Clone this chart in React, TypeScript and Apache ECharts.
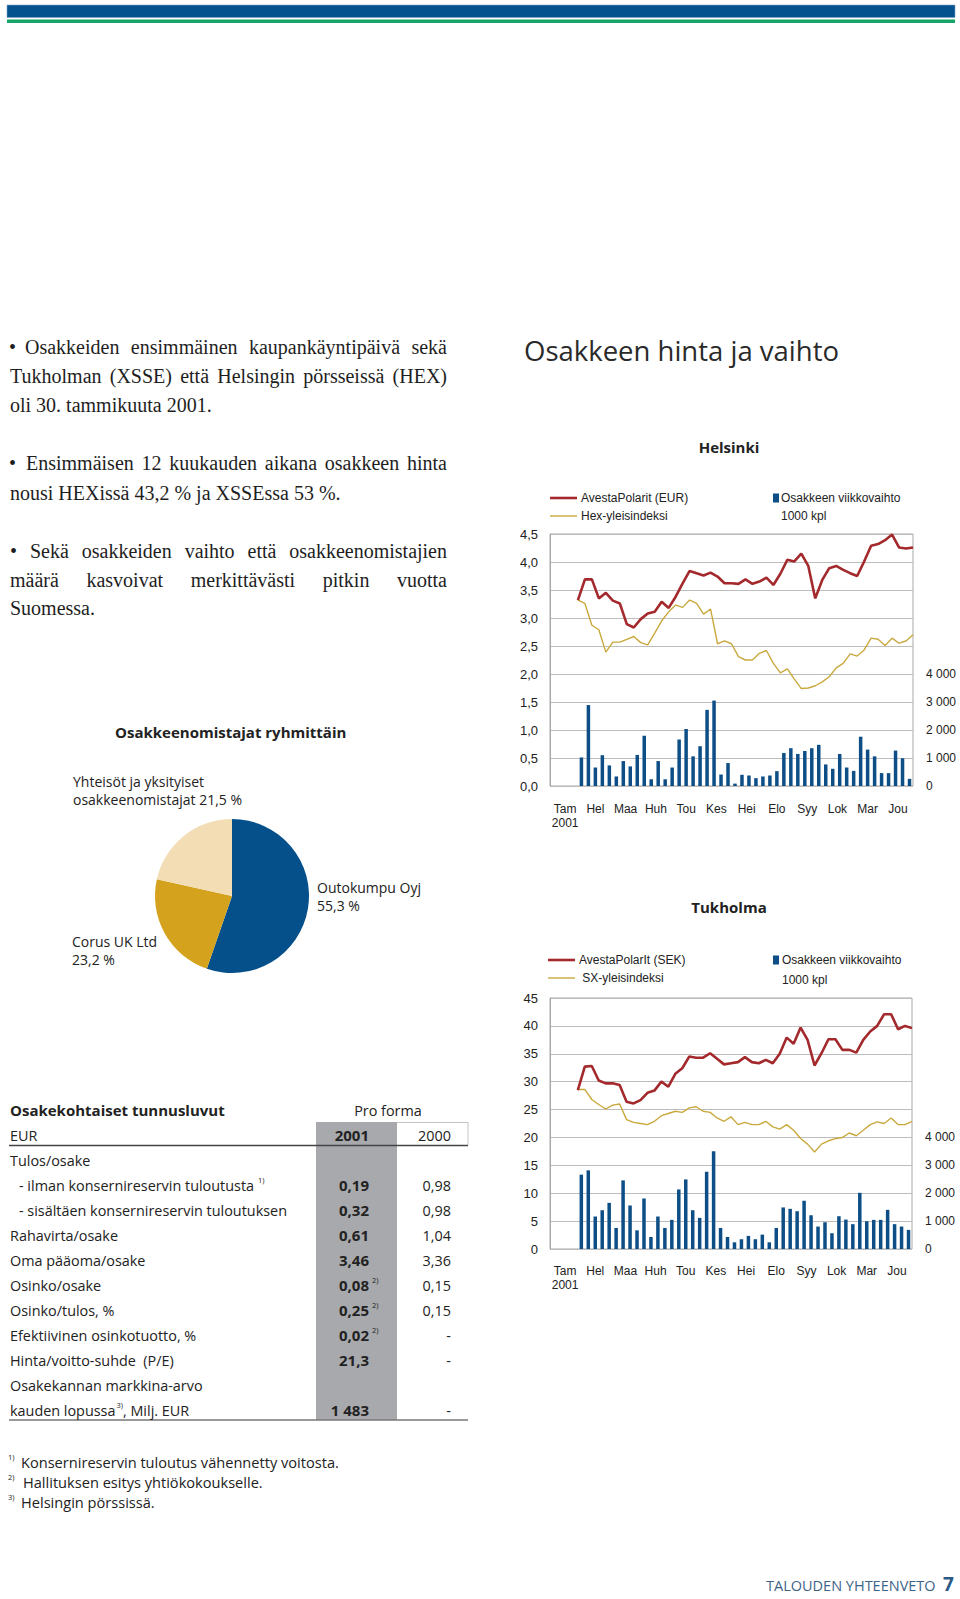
import React, { useEffect, useRef } from 'react';
import * as echarts from 'echarts';

// ---------- DATA ----------
const months = ['Tam', 'Hel', 'Maa', 'Huh', 'Tou', 'Kes', 'Hei', 'Elo', 'Syy', 'Lok', 'Mar', 'Jou'];
const yearLabel = '2001';
const weekCount = 52;
const firstBarWeek = 5; // first weekly turnover bar (week 5)
const firstPriceWeek = 4; // first price observation (end of week 4)

// Helsinki
const hexPrice = [3.32, 3.69, 3.69, 3.35, 3.45, 3.31, 3.26, 2.89, 2.83, 2.98, 3.08, 3.11, 3.29, 3.18, 3.38, 3.62, 3.84, 3.8, 3.76, 3.81, 3.74, 3.62, 3.62, 3.61, 3.69, 3.61, 3.65, 3.72, 3.59, 3.79, 4.04, 4.01, 4.15, 3.93, 3.35, 3.68, 3.89, 3.93, 3.86, 3.8, 3.75, 4.01, 4.29, 4.32, 4.39, 4.49, 4.26, 4.24, 4.26];
const hexIndex = [3.32, 3.26, 2.87, 2.79, 2.39, 2.57, 2.57, 2.62, 2.67, 2.56, 2.52, 2.73, 2.95, 3.11, 3.23, 3.19, 3.32, 3.26, 3.07, 3.16, 2.54, 2.59, 2.54, 2.31, 2.25, 2.25, 2.37, 2.42, 2.19, 2.02, 2.09, 1.91, 1.74, 1.75, 1.79, 1.86, 1.95, 2.11, 2.19, 2.36, 2.32, 2.43, 2.64, 2.62, 2.51, 2.64, 2.55, 2.59, 2.7];
const hexVolume = [1020, 2890, 660, 1100, 735, 340, 890, 700, 1110, 1795, 240, 890, 240, 660, 1660, 2035, 1060, 1420, 2720, 3050, 410, 820, 85, 400, 375, 280, 340, 375, 530, 1180, 1350, 1145, 1250, 1350, 1470, 770, 615, 1145, 660, 540, 1760, 1300, 1060, 460, 460, 1265, 990, 255];

// Tukholma
const sxPrice = [28.5, 32.7, 32.8, 30.2, 29.7, 29.7, 29.4, 26.4, 26.1, 26.7, 28.0, 28.4, 30.0, 29.1, 31.4, 32.4, 34.5, 34.3, 34.3, 35.1, 34.1, 33.1, 33.3, 33.5, 34.4, 33.5, 33.3, 33.9, 33.3, 35.0, 37.9, 36.8, 39.7, 37.5, 32.9, 35.1, 37.6, 37.6, 35.7, 35.7, 35.2, 37.5, 39.0, 40.0, 42.1, 42.1, 39.4, 40.0, 39.6];
const sxIndex = [28.6, 28.6, 26.8, 25.9, 25.1, 25.8, 26.0, 23.2, 22.7, 22.5, 22.3, 22.9, 23.9, 24.3, 24.7, 24.5, 25.3, 25.5, 24.7, 24.5, 23.5, 22.9, 23.7, 22.3, 22.7, 22.3, 22.3, 22.9, 21.9, 21.5, 22.3, 21.3, 19.8, 18.8, 17.4, 18.8, 19.4, 19.8, 20.0, 20.8, 20.3, 21.3, 22.3, 22.8, 22.5, 23.5, 22.3, 22.3, 22.9];
const sxVolume = [2665, 2820, 1165, 1390, 1655, 755, 2460, 1560, 670, 1810, 430, 1165, 755, 1045, 2135, 2495, 1390, 1115, 2770, 3505, 755, 430, 240, 350, 470, 350, 515, 240, 755, 1490, 1440, 1355, 1730, 1210, 805, 960, 565, 1175, 1055, 890, 2015, 995, 1045, 1045, 1405, 890, 805, 685];

// Axis settings
const hexPriceAxis = { min: 0, max: 4.5, interval: 0.5 };
const sxPriceAxis = { min: 0, max: 45, interval: 5 };
const volumeAxis = { min: 0, max: 9000, interval: 1000, labelMax: 4000 };

// Owners
const ownerNames = ['Outokumpu Oyj', 'Corus UK Ltd', 'Yhteisöt ja yksityiset\nosakkeenomistajat'];
const ownerShares = [55.3, 23.2, 21.5];

// Table
const tableLabels = ['Tulos/osake', '- ilman konsernireservin tuloutusta', '- sisältäen konsernireservin tuloutuksen', 'Rahavirta/osake', 'Oma pääoma/osake', 'Osinko/osake', 'Osinko/tulos, %', 'Efektiivinen osinkotuotto, %', 'Hinta/voitto-suhde  (P/E)', 'Osakekannan markkina-arvo', 'kauden lopussa'];
const tableLabelNotes = ['', '1)', '', '', '', '', '', '', '', '', '3)'];
const tableLabelSuffix = ['', '', '', '', '', '', '', '', '', '', ', Milj. EUR'];
const tableIndent = [false, true, true, false, false, false, false, false, false, false, false];
const values2001 = ['', '0,19', '0,32', '0,61', '3,46', '0,08', '0,25', '0,02', '21,3', '', '1 483'];
const notes2001 = ['', '', '', '', '', '2)', '2)', '2)', '', '', ''];
const values2000 = ['', '0,98', '0,98', '1,04', '3,36', '0,15', '0,15', '-', '-', '', '-'];

const footnotes = [
  ['1)', 'Konsernireservin tuloutus vähennetty voitosta.'],
  ['2)', 'Hallituksen esitys yhtiökokoukselle.'],
  ['3)', 'Helsingin pörssissä.'],
];

// ---------- STYLE ----------
const RED = '#a3292c';
const YELLOW = '#c9a93e';
const BLUE = '#0d4e86';
const GRID = '#bdbdbd';
const TXT = '#222';
const SANS = 'Liberation Sans';
const HUM = 'Open Sans';
const SERIF = 'Liberation Serif';

let measureCtx: CanvasRenderingContext2D | null = null;
function textWidth(text: string, font: string): number {
  if (!measureCtx) measureCtx = document.createElement('canvas').getContext('2d');
  if (!measureCtx) return text.length * 8;
  measureCtx.font = font;
  return measureCtx.measureText(text).width;
}

function txt(text: string, x: number, y: number, o: any = {}) {
  return {
    type: 'text',
    x,
    y,
    silent: true,
    style: {
      text,
      fontSize: o.size || 14,
      fontFamily: o.family || HUM,
      fontWeight: o.weight || 'normal',
      fill: o.fill || TXT,
      align: o.align || 'left',
      verticalAlign: o.valign || 'middle',
      lineHeight: o.lineHeight,
    },
  };
}

function justified(words: string[], x0: number, x1: number, y: number, size: number) {
  const font = `${size}px "${SERIF}"`;
  const widths = words.map((w) => textWidth(w, font));
  const total = widths.reduce((a, b) => a + b, 0);
  const gap = (x1 - x0 - total) / (words.length - 1);
  let x = x0;
  return words.map((w, i) => {
    const el = txt(w, x, y, { size, family: SERIF, fill: '#1e1e1e' });
    x += widths[i] + gap;
    return el;
  });
}

function line(x1: number, y1: number, x2: number, y2: number, stroke: string, lineWidth: number) {
  return { type: 'line', silent: true, shape: { x1, y1, x2, y2 }, style: { stroke, lineWidth } };
}

function fmtVol(v: number) {
  if (v > volumeAxis.labelMax) return '';
  if (v === 0) return '0';
  return `${Math.floor(v / 1000)} 000`;
}

function buildOption() {
  const weeks = Array.from({ length: weekCount }, (_, i) => String(i + 1));
  const weekEdges = Array.from({ length: weekCount + 1 }, (_, i) => String(i));
  const barPad = Array(firstBarWeek - 1).fill(null);
  const linePad = Array(firstPriceWeek).fill(null);

  const grids = [
    { left: 550, top: 534, width: 363, height: 252 },
    { left: 550, top: 998, width: 362, height: 251 },
  ];

  const xAxes: any[] = [];
  const yAxes: any[] = [];
  grids.forEach((_, g) => {
    xAxes.push({ type: 'category', gridIndex: g, data: weeks, show: false, boundaryGap: true });
    xAxes.push({ type: 'category', gridIndex: g, data: weekEdges, show: false, boundaryGap: false });
    xAxes.push({
      type: 'category',
      gridIndex: g,
      data: months,
      position: 'bottom',
      boundaryGap: true,
      axisLine: { show: false },
      axisTick: { show: false },
      splitLine: { show: false },
      axisLabel: {
        interval: 0,
        margin: g === 0 ? 16 : 15,
        fontSize: 12,
        fontFamily: SANS,
        color: TXT,
        lineHeight: 14,
        formatter: (v: string, i: number) => (i === 0 ? `${v}\n${yearLabel}` : v),
      },
    });
    const pa = g === 0 ? hexPriceAxis : sxPriceAxis;
    yAxes.push({
      type: 'value',
      gridIndex: g,
      position: 'left',
      min: pa.min,
      max: pa.max,
      interval: pa.interval,
      axisLine: { show: true, lineStyle: { color: '#a8a8a8' } },
      axisTick: { show: false },
      splitLine: { show: true, lineStyle: { color: GRID, width: 1 } },
      axisLabel: {
        margin: 12,
        fontSize: 13,
        fontFamily: SANS,
        color: TXT,
        formatter: (v: number) => (g === 0 ? v.toFixed(1).replace('.', ',') : String(v)),
      },
    });
    yAxes.push({
      type: 'value',
      gridIndex: g,
      position: 'right',
      min: volumeAxis.min,
      max: volumeAxis.max,
      interval: volumeAxis.interval,
      axisLine: { show: false },
      axisTick: { show: false },
      splitLine: { show: false },
      axisLabel: { margin: 13, fontSize: 12, fontFamily: SANS, color: TXT, formatter: fmtVol },
    });
  });

  const chartSeries = (g: number, vol: number[], price: number[], index: number[]) => [
    {
      type: 'bar',
      xAxisIndex: g * 3,
      yAxisIndex: g * 2 + 1,
      data: [...barPad, ...vol],
      barWidth: 3.5,
      itemStyle: { color: BLUE },
      silent: true,
      z: 2,
    },
    {
      type: 'line',
      xAxisIndex: g * 3 + 1,
      yAxisIndex: g * 2,
      data: [...linePad, ...index],
      symbol: 'none',
      lineStyle: { color: YELLOW, width: 1.4 },
      silent: true,
      z: 3,
    },
    {
      type: 'line',
      xAxisIndex: g * 3 + 1,
      yAxisIndex: g * 2,
      data: [...linePad, ...price],
      symbol: 'none',
      lineStyle: { color: RED, width: 2.6 },
      silent: true,
      z: 4,
    },
  ];

  const pieColors = ['#05508a', '#d5a21d', '#f2ddb4'];

  const graphics: any[] = [];
  // header bars
  graphics.push({ type: 'rect', silent: true, shape: { x: 7, y: 5, width: 948, height: 12.5 }, style: { fill: '#04528e', stroke: '#7fa6c8', lineWidth: 0.6 } });
  graphics.push({ type: 'rect', silent: true, shape: { x: 7, y: 19.5, width: 948, height: 3.5 }, style: { fill: '#16a46a' } });

  // left serif text
  const SZ = 20;
  graphics.push(txt('•', 9, 347, { size: SZ, family: SERIF, fill: '#1e1e1e' }));
  graphics.push(...justified(['Osakkeiden', 'ensimmäinen', 'kaupankäyntipäivä', 'sekä'], 25, 447, 347, SZ));
  graphics.push(...justified(['Tukholman', '(XSSE)', 'että', 'Helsingin', 'pörsseissä', '(HEX)'], 10, 447, 376, SZ));
  graphics.push(txt('oli 30. tammikuuta 2001.', 10, 405, { size: SZ, family: SERIF, fill: '#1e1e1e' }));
  graphics.push(txt('•', 9, 463, { size: SZ, family: SERIF, fill: '#1e1e1e' }));
  graphics.push(...justified(['Ensimmäisen', '12', 'kuukauden', 'aikana', 'osakkeen', 'hinta'], 26, 447, 463, SZ));
  graphics.push(txt('nousi HEXissä 43,2 % ja XSSEssa 53 %.', 10, 493, { size: SZ, family: SERIF, fill: '#1e1e1e' }));
  graphics.push(txt('•', 10, 551, { size: SZ, family: SERIF, fill: '#1e1e1e' }));
  graphics.push(...justified(['Sekä', 'osakkeiden', 'vaihto', 'että', 'osakkeenomistajien'], 30, 447, 551, SZ));
  graphics.push(...justified(['määrä', 'kasvoivat', 'merkittävästi', 'pitkin', 'vuotta'], 10, 447, 580, SZ));
  graphics.push(txt('Suomessa.', 10, 608, { size: SZ, family: SERIF, fill: '#1e1e1e' }));

  // main title
  graphics.push(txt('Osakkeen hinta ja vaihto', 524, 350, { size: 27.5, family: HUM, fill: '#2a2a2a' }));

  // chart titles
  graphics.push(txt('Helsinki', 729, 447, { size: 15, weight: 'bold', align: 'center' }));
  graphics.push(txt('Tukholma', 729, 907, { size: 15, weight: 'bold', align: 'center' }));

  // legends
  const legend = (y1: number, y2: number, lx: number, tx: number, t1: string, t2: string, bx: number, btx: number, by2: number) => {
    graphics.push(line(lx, y1, lx + 27, y1, RED, 2.6));
    graphics.push(txt(t1, tx, y1, { size: 12, family: SANS }));
    graphics.push(line(lx, y2, lx + 27, y2, YELLOW, 1.4));
    graphics.push(txt(t2, tx, y2, { size: 12, family: SANS }));
    graphics.push({ type: 'rect', silent: true, shape: { x: bx, y: y1 - 4.5, width: 6, height: 9 }, style: { fill: BLUE } });
    graphics.push(txt('Osakkeen viikkovaihto', btx, y1, { size: 12, family: SANS }));
    graphics.push(txt('1000 kpl', btx, by2, { size: 12, family: SANS }));
  };
  legend(498, 516, 550, 581, 'AvestaPolarit (EUR)', 'Hex-yleisindeksi', 773, 781, 516);
  legend(960, 978, 548, 579, 'AvestaPolarIt (SEK)', ' SX-yleisindeksi', 773, 782, 980);

  // pie title & labels
  graphics.push(txt('Osakkeenomistajat ryhmittäin', 115, 732, { size: 15, weight: 'bold' }));
  const pct = (v: number) => `${v.toFixed(1).replace('.', ',')} %`;
  graphics.push(txt(`${ownerNames[2]} ${pct(ownerShares[2])}`, 73, 790, { size: 14, lineHeight: 18 }));
  graphics.push(txt(`${ownerNames[0]}\n${pct(ownerShares[0])}`, 317, 896, { size: 14, lineHeight: 18 }));
  graphics.push(txt(`${ownerNames[1]}\n${pct(ownerShares[1])}`, 72, 950, { size: 14, lineHeight: 18 }));

  // table
  const TS = 14.4;
  const TB = 15;
  graphics.push({ type: 'rect', silent: true, shape: { x: 316, y: 1122, width: 81, height: 298 }, style: { fill: '#a7a9ac' } });
  graphics.push(line(397, 1122.5, 468, 1122.5, '#c4c4c4', 1));
  graphics.push(line(468, 1122, 468, 1145, '#c4c4c4', 1));
  graphics.push(txt('Osakekohtaiset tunnusluvut', 10, 1110, { size: TB, weight: 'bold' }));
  graphics.push(txt('Pro forma', 388, 1110, { size: TS, align: 'center' }));
  graphics.push(txt('EUR', 10, 1135, { size: TS }));
  graphics.push(txt('2001', 369, 1135, { size: TB, weight: 'bold', align: 'right' }));
  graphics.push(txt('2000', 451, 1135, { size: TS, align: 'right' }));
  graphics.push(line(9, 1145.5, 468, 1145.5, '#444', 1.5));
  graphics.push(line(9, 1420, 468, 1420, '#777', 1.5));
  const rowFont = `${TS}px "${HUM}"`;
  tableLabels.forEach((label, i) => {
    const y = 1160 + 25 * i;
    const x = tableIndent[i] ? 19 : 10;
    graphics.push(txt(label, x, y, { size: TS }));
    let endX = x + textWidth(label, rowFont);
    if (tableLabelNotes[i]) {
      const nx = endX + (tableLabelSuffix[i] ? 1 : 4);
      graphics.push(txt(tableLabelNotes[i], nx, y - 5, { size: 7.5 }));
      endX = nx + textWidth(tableLabelNotes[i], `7.5px "${HUM}"`);
    }
    if (tableLabelSuffix[i]) graphics.push(txt(tableLabelSuffix[i], endX, y, { size: TS }));
    if (values2001[i]) graphics.push(txt(values2001[i], 369, y, { size: TB, weight: 'bold', align: 'right' }));
    if (notes2001[i]) graphics.push(txt(notes2001[i], 372, y - 5, { size: 7.5 }));
    if (values2000[i]) graphics.push(txt(values2000[i], 451, y, { size: TS, align: 'right' }));
  });

  // footnotes
  footnotes.forEach(([n, t], i) => {
    const y = 1462 + 20 * i;
    graphics.push(txt(n, 8, y - 5, { size: 7.5 }));
    graphics.push(txt(t, i === 1 ? 23 : 21, y, { size: 14.6 }));
  });

  // footer
  graphics.push(txt('TALOUDEN YHTEENVETO', 766, 1585, { size: 14.5, fill: '#3d6487' }));
  graphics.push(txt('7', 943, 1584, { size: 19, weight: 'bold', fill: '#2b5a85' }));

  return {
    animation: false,
    backgroundColor: '#ffffff',
    grid: grids.map((g) => ({ ...g, show: true, borderColor: '#a8a8a8', borderWidth: 1, containLabel: false })),
    xAxis: xAxes,
    yAxis: yAxes,
    series: [
      ...chartSeries(0, hexVolume, hexPrice, hexIndex),
      ...chartSeries(1, sxVolume, sxPrice, sxIndex),
      {
        type: 'pie',
        center: [232, 896],
        radius: 77,
        startAngle: 90,
        clockwise: true,
        silent: true,
        label: { show: false },
        labelLine: { show: false },
        data: ownerNames.map((n, i) => ({ name: n, value: ownerShares[i], itemStyle: { color: pieColors[i] } })),
      },
    ],
    graphic: graphics,
  };
}

export default function App() {
  const ref = useRef<HTMLDivElement>(null);
  useEffect(() => {
    if (!ref.current) return;
    const chart = echarts.init(ref.current, undefined, { renderer: 'svg' });
    chart.setOption(buildOption() as any);
    return () => chart.dispose();
  }, []);
  return (
    <div
      ref={ref}
      style={{ position: 'absolute', left: 0, top: 0, width: 960, height: 1599, background: '#fff' }}
    />
  );
}
